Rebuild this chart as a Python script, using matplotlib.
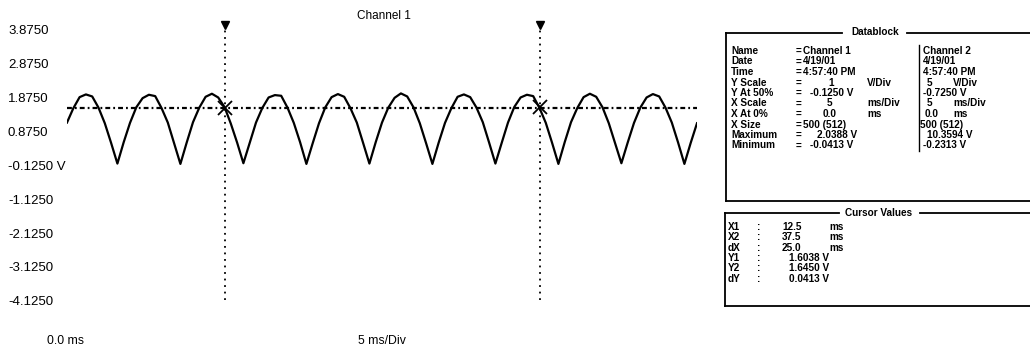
import matplotlib
matplotlib.use("Agg")
import matplotlib.pyplot as plt
import matplotlib.transforms as mtransforms
import numpy as np

plt.rcParams["font.family"] = ["Liberation Sans", "DejaVu Sans"]
plt.rcParams["lines.scale_dashes"] = False

# Channel 1 trace, one sample every 0.5 ms from 0 to 50 ms (volts)
t_step_ms = 0.5
ch1_volts = [
    1.18, 1.60, 1.93, 2.01, 1.95, 1.62, 1.16, 0.58, -0.03, 0.60,
    1.17, 1.63, 1.90, 2.00, 1.96, 1.61, 1.18, 0.57, -0.04, 0.59,
    1.19, 1.62, 1.94, 2.03, 1.92, 1.64, 1.15, 0.59, -0.02, 0.58,
    1.18, 1.61, 1.92, 1.99, 1.97, 1.62, 1.17, 0.60, -0.04, 0.57,
    1.16, 1.63, 1.93, 2.02, 1.94, 1.60, 1.18, 0.58, -0.03, 0.60,
    1.18, 1.62, 1.91, 2.04, 1.95, 1.63, 1.16, 0.57, -0.04, 0.59,
    1.17, 1.60, 1.94, 2.01, 1.93, 1.62, 1.19, 0.59, -0.03, 0.58,
    1.18, 1.64, 1.92, 2.00, 1.96, 1.61, 1.17, 0.58, -0.04, 0.60,
    1.19, 1.61, 1.93, 2.03, 1.94, 1.63, 1.16, 0.57, -0.02, 0.59,
    1.17, 1.62, 1.92, 2.02, 1.95, 1.62, 1.18, 0.59, -0.04, 0.58,
    1.16,
]
t_ms = np.arange(len(ch1_volts)) * t_step_ms

y_ticks = [3.875, 2.875, 1.875, 0.875, -0.125, -1.125, -2.125, -3.125, -4.125]
y_tick_labels = ["3.8750", "2.8750", "1.8750", "0.8750", "-0.1250 V",
                 "-1.1250", "-2.1250", "-3.1250", "-4.1250"]

cursor_x = [12.5, 37.5]
cursor_y = [1.6038, 1.6450]
level_line = 1.62
cursor_top, cursor_bottom = 4.0, -4.05

datablock_labels = ["Name", "Date", "Time", "Y Scale", "Y At 50%", "X Scale",
                    "X At 0%", "X Size", "Maximum", "Minimum"]
ch1_values = ["Channel 1", "4/19/01", "4:57:40 PM", "1", "-0.1250 V", "5",
              "0.0", "500 (512)", "2.0388 V", "-0.0413 V"]
ch1_units = ["", "", "", "V/Div", "", "ms/Div", "ms", "", "", ""]
ch2_values = ["Channel 2", "4/19/01", "4:57:40 PM", "5", "-0.7250 V", "5",
              "0.0", "500 (512)", "10.3594 V", "-0.2313 V"]
ch2_units = ["", "", "", "V/Div", "", "ms/Div", "ms", "", "", ""]

cursor_names = ["X1", "X2", "dX", "Y1", "Y2", "dY"]
cursor_vals = ["12.5", "37.5", "25.0", "1.6038 V", "1.6450 V", "0.0413 V"]
cursor_units = ["ms", "ms", "ms", "", "", ""]

# ---- figure ----
W, H = 1030, 348
fig = plt.figure(figsize=(W / 100, H / 100), dpi=100)

ax = fig.add_axes([67 / W, 1 - 318.5 / H, 630 / W, (318.5 - 13.4) / H])
ax.set_xlim(0, 50)
ax.set_ylim(-4.6, 4.4)
ax.axis("off")

ax.plot(t_ms, ch1_volts, color="black", lw=1.6, solid_joinstyle="round")
ax.axhline(level_line, color="black", lw=1.6, ls=(0, (3.5, 2.2, 1.3, 2.2)))
for cx, cy in zip(cursor_x, cursor_y):
    ax.plot([cx, cx], [cursor_bottom, cursor_top], color="black", lw=1.3,
            ls=(0, (1.3, 3.4)))
    ax.plot(cx, cursor_top + 0.05, marker="v", color="black", ms=6)
    ax.plot(cx, cy, marker="x", color="black", ms=10, mew=1.3)

# y labels, left-aligned at the figure edge
tr = mtransforms.blended_transform_factory(fig.transFigure, ax.transData)
for v, lab in zip(y_ticks, y_tick_labels):
    ax.text(8 / W, v, lab, transform=tr, ha="left", va="center", fontsize=9.5)

# overlay in pixel coordinates for the captions and side panels
pn = fig.add_axes([0, 0, 1, 1])
pn.set_xlim(0, W)
pn.set_ylim(H, 0)
pn.axis("off")
pn.patch.set_visible(False)

pn.text(384, 16, "Channel 1", ha="center", va="center", fontsize=8.5)
pn.text(47, 341, "0.0 ms", ha="left", va="center", fontsize=8.8)
pn.text(358, 341, "5 ms/Div", ha="left", va="center", fontsize=8.8)

fs = 7.2
fw = "bold"
lw_box = 1.3


def put(x, y, s):
    pn.text(x, y, s, ha="left", va="center", fontsize=fs, fontweight=fw)


# Datablock frame
pn.plot([726, 842], [33, 33], color="black", lw=lw_box)
pn.plot([907, W], [33, 33], color="black", lw=lw_box)
pn.plot([726, 726], [33, 201], color="black", lw=lw_box)
pn.plot([726, W], [201, 201], color="black", lw=lw_box)
pn.plot([919, 919], [45, 151], color="black", lw=1.0)
pn.text(875, 32, "Datablock", ha="center", va="center", fontsize=fs,
        fontweight=fw)

row_y = [51, 61.5, 72, 82.5, 93, 103.5, 114, 124.5, 135, 145.5]
ch1_x = [803, 803, 803, 828, 810, 827, 823, 803, 817, 810]
ch2_x = [923, 923, 923, 927, 923, 927, 925, 920, 927, 923]
for i, y in enumerate(row_y):
    put(731, y, datablock_labels[i])
    put(796, y, "=")
    put(ch1_x[i], y, ch1_values[i])
    if ch1_units[i]:
        put(867, y, ch1_units[i])
    put(ch2_x[i], y, ch2_values[i])
    if ch2_units[i]:
        put(953, y, ch2_units[i])

# Cursor Values frame
pn.plot([725, 839], [213, 213], color="black", lw=lw_box)
pn.plot([920, W], [213, 213], color="black", lw=lw_box)
pn.plot([725, 725], [213, 306], color="black", lw=lw_box)
pn.plot([725, W], [306, 306], color="black", lw=lw_box)
pn.text(879, 213, "Cursor Values", ha="center", va="center", fontsize=fs,
        fontweight=fw)

crow_y = [227, 237.3, 247.6, 257.9, 268.2, 278.5]
for i, y in enumerate(crow_y):
    put(728, y, cursor_names[i])
    put(757, y, ":")
    put(782 if cursor_units[i] else 789, y, cursor_vals[i])
    if cursor_units[i]:
        put(829, y, cursor_units[i])

fig.savefig("out.png", dpi=100)
